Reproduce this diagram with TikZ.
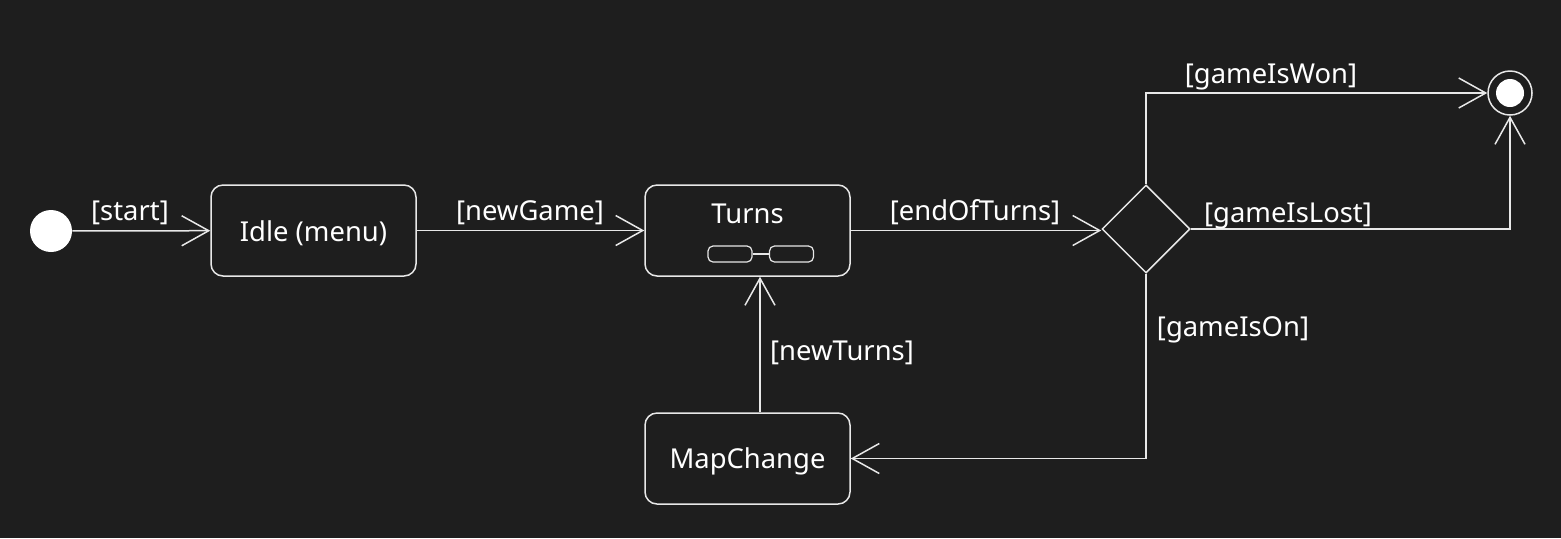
\documentclass[tikz,border=0pt]{standalone}
\usepackage{fontspec}
\setmainfont{Noto Sans}
\usetikzlibrary{arrows.meta,shapes.geometric}
\definecolor{bg}{HTML}{1E1E1E}
\definecolor{ln}{HTML}{E8E8E8}
\begin{document}
\begin{tikzpicture}[x=0.5pt,y=-0.5pt,
  every node/.style={font=\fontsize{13.7pt}{16pt}\selectfont, text=white},
  statebox/.style={draw=ln, line width=0.75pt, rounded corners=6pt, minimum width=102.5pt, minimum height=45.5pt, inner sep=0pt},
  minibox/.style={draw=ln, line width=0.6pt, rounded corners=2.5pt, minimum width=22pt, minimum height=8pt, inner sep=0pt},
  arr/.style={draw=ln, line width=0.75pt, -{Straight Barb[length=13.5pt,width=15pt,line width=0.75pt]}},
  lbl/.style={inner sep=1pt}]
\fill[bg] (0,0) rectangle (1561,538);
\useasboundingbox (0,0) rectangle (1561,538);
% nodes
\node[circle, fill=white, minimum size=21pt, inner sep=0pt] (start) at (51,231) {};
\node[statebox] (idle) at (313.5,230.5) {};
\node (idleT) at (313.5,233) {Idle (menu)};
\node[statebox] (turns) at (747.5,230.5) {};
\node (turnsT) at (747.5,214) {Turns};
\node[minibox] (ma) at (730,254) {};
\node[minibox] (mb) at (791.5,254) {};
\draw[ln, line width=0.6pt] (ma) -- (mb);
\node[statebox] (map) at (747.5,458.5) {};
\node (mapT) at (747.5,461) {MapChange};
\node[diamond, draw=ln, line width=0.75pt, minimum width=44pt, minimum height=44pt, inner sep=0pt] (dia) at (1146,229) {};
\node[circle, draw=ln, line width=0.75pt, minimum size=22pt, inner sep=0pt] (endst) at (1510,93) {};
\node[circle, fill=white, minimum size=14pt, inner sep=0pt] (endin) at (1510,93) {};
% edges
\draw[arr] (start) -- (idle);
\draw[arr] (idle) -- (turns);
\draw[arr] (turns.east) -- (turns.east -| dia.west);
\draw[arr] (dia.north) |- (endst.west);
\draw[arr] (dia.east) -| (endst.south);
\draw[arr] (dia.south) |- (map.east);
\draw[arr] ([xshift=6.25pt]map.north) -- ([xshift=6.25pt]turns.south);
% labels
\node[lbl] (l1) at (130,212.5) {[start]};
\node[lbl] (l2) at (530,212.5) {[newGame]};
\node[lbl] (l3) at (975,212.5) {[endOfTurns]};
\node[lbl] (l4) at (1271,76.5) {[gameIsWon]};
\node[lbl] (l5) at (1288,215.5) {[gameIsLost]};
\node[lbl] (l6) at (1233,329.5) {[gameIsOn]};
\node[lbl] (l7) at (842,352.5) {[newTurns]};
\end{tikzpicture}
\end{document}
